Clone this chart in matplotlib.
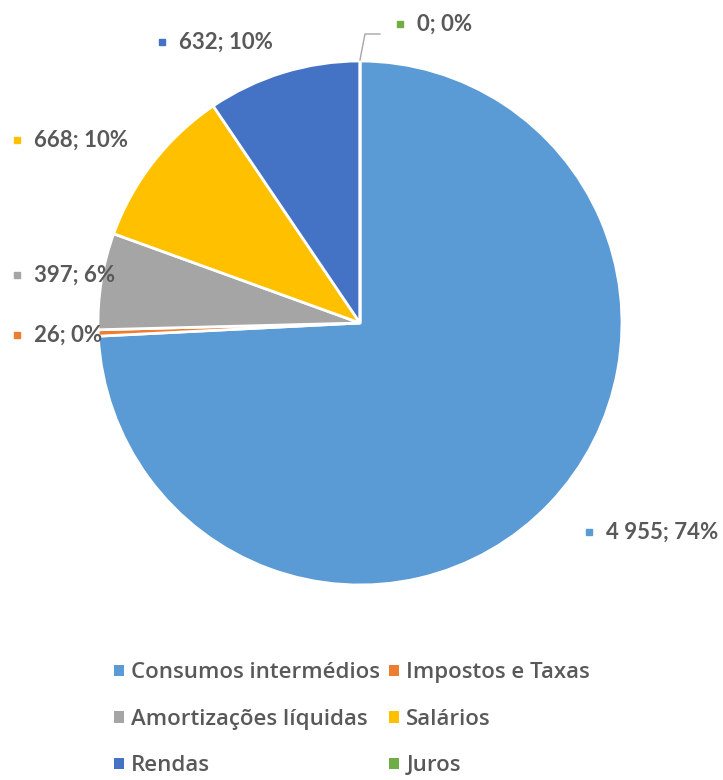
import matplotlib.pyplot as plt
from matplotlib.patches import Patch

plt.rcParams['font.family'] = ['Open Sans', 'DejaVu Sans']

# dados
categorias = ["Consumos intermédios", "Impostos e Taxas", "Amortizações líquidas",
              "Salários", "Rendas", "Juros"]
valores = [4955, 26, 397, 668, 632, 0]
rotulos = ["4 955; 74%", "26; 0%", "397; 6%", "668; 10%", "632; 10%", "0; 0%"]
cores = ["#5B9BD5", "#ED7D31", "#A5A5A5", "#FFC000", "#4472C4", "#70AD47"]

# posições dos rótulos (coordenadas do eixo)
pos_rotulos = [(0.874, -0.798), (-1.309, -0.046), (-1.309, 0.183),
               (-1.309, 0.698), (-0.756, 1.072), (0.153, 1.141)]

cinza = "#595959"

fig = plt.figure(figsize=(7.23, 7.8), dpi=100)
ax = fig.add_axes([0.1355, 0.25, 0.7248, 0.6718])

ax.pie(valores, colors=cores, startangle=90, counterclock=False, radius=1,
       wedgeprops=dict(edgecolor="white", linewidth=2))
ax.set_xlim(-1, 1)
ax.set_ylim(-1, 1)
ax.set_aspect("equal")
ax.axis("off")

for (x, y), txt, c in zip(pos_rotulos, rotulos, cores):
    ax.plot([x], [y], marker="s", markersize=5, color=c, linestyle="none", clip_on=False)
    ax.text(x + 0.065, y, txt, fontsize=16, fontweight="bold", color=cinza,
            family=["Lato", "DejaVu Sans"], va="center", ha="left", clip_on=False)

# linha de chamada do rótulo "0; 0%"
ax.plot([0.0, 0.019, 0.076], [1.004, 1.103, 1.103], color="#A6A6A6",
        linewidth=1, clip_on=False)

# legenda (ordem por linhas)
ordem = [0, 2, 4, 1, 3, 5]
handles = [Patch(facecolor=cores[i], edgecolor="none") for i in ordem]
labels = [categorias[i] for i in ordem]
leg = fig.legend(handles, labels, ncol=2, loc="lower center", bbox_to_anchor=(0.487, -0.021),
                 frameon=False, fontsize=16, labelcolor=cinza, handlelength=0.42,
                 handleheight=0.42, handletextpad=0.35, columnspacing=0.4, labelspacing=1.15)
for t in leg.get_texts():
    t.set_fontweight("semibold")

plt.savefig("out.png", dpi=100)
